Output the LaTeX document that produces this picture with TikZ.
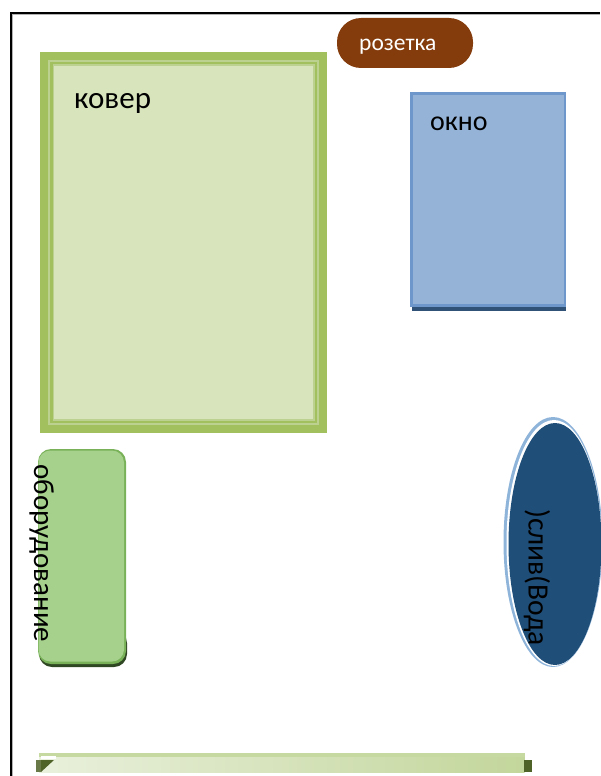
\documentclass[tikz,border=0pt]{standalone}
\usepackage{fontspec}
\setmainfont{Carlito}
\usetikzlibrary{shapes.geometric}
\definecolor{rugband}{HTML}{A3C05F}
\definecolor{rugfill}{HTML}{D8E4BC}
\definecolor{rugline}{HTML}{BCD190}
\definecolor{brownfill}{HTML}{843C0C}
\definecolor{winfill}{HTML}{95B3D7}
\definecolor{winline}{HTML}{6E98CB}
\definecolor{winshadow}{HTML}{2F5276}
\definecolor{eqfill}{HTML}{A6D18C}
\definecolor{eqline}{HTML}{78B158}
\definecolor{drain}{HTML}{1F4E79}
\definecolor{drainring}{HTML}{8FB4DA}
\definecolor{barL}{HTML}{E9F0DC}
\definecolor{barR}{HTML}{C3D69B}
\definecolor{bartop}{HTML}{C6D9A0}
\definecolor{tabdark}{HTML}{4F6228}
\tikzset{
  label text/.style={inner sep=0pt,text=black},
}
\begin{document}
\begin{tikzpicture}[x=1pt,y=-1pt]
\useasboundingbox (0,0) rectangle (600,776);
% page frame
\fill[black!30] (12,14.5) rectangle (600,15.5);
\fill[black!30] (12,14.5) rectangle (13,776);
\fill[black] (10,12.5) rectangle (600,14.5);
\fill[black] (10,12.5) rectangle (12,776);
% carpet
\fill[rugband] (40,52) rectangle (327,433);
\fill[rugline] (48,60) rectangle (319,425);
\fill[rugband] (50,62) rectangle (317,423);
\fill[rugline] (52.5,64.5) rectangle (314.5,420.5);
\fill[rugfill] (54,66) rectangle (313,419);
\node[label text,font=\fontsize{31}{31}\selectfont,anchor=base west] (carpet) at (74,108) {ковер};
% socket
\fill[brownfill,rounded corners=24pt] (337,18) rectangle (473,68);
\node[label text,text=white,font=\fontsize{23.5}{23.5}\selectfont,anchor=base west] (socket) at (359,51) {розетка};
% window
\fill[winshadow] (412,304) rectangle (566,310.5);
\fill[winline] (410,92) rectangle (566,307);
\fill[winfill] (412.5,94.5) rectangle (563.5,304);
\node[label text,font=\fontsize{28}{28}\selectfont,anchor=base west] (window) at (430,130) {окно};
% equipment
\fill[black!60!eqline,rounded corners=13pt] (39,630) rectangle (127,667);
\fill[eqline,rounded corners=13pt] (38,449) rectangle (126,664);
\fill[eqfill,rounded corners=12pt] (38.5,450.5) rectangle (124,661.5);
\node[label text,rotate=-90,font=\fontsize{29}{29}\selectfont] (equipment) at (41.5,553.5) {оборудование};
% drain
\fill[drainring] (553,542) ellipse [x radius=49.5, y radius=125];
\fill[white] (554,543) ellipse [x radius=47.5, y radius=123];
\fill[drain] (555,544) ellipse [x radius=46.5, y radius=121];
\node[label text,rotate=-90,font=\fontsize{29.5}{29.5}\selectfont] (drainlabel) at (537,577.5) {)слив(Вода};
% bar
\shade[left color=barL,right color=barR,draw=none] (39,756) rectangle (524.5,772);
\fill[bartop] (38.5,752.5) rectangle (525,757);
\fill[white] (41,756) rectangle (56,759);
\fill[tabdark] (524,760) rectangle (532,772);
\fill[tabdark] (41,760) -- (54,760) -- (41,772) -- cycle;
\fill[tabdark!85!white] (36,760) rectangle (41,772);
\end{tikzpicture}
\end{document}
